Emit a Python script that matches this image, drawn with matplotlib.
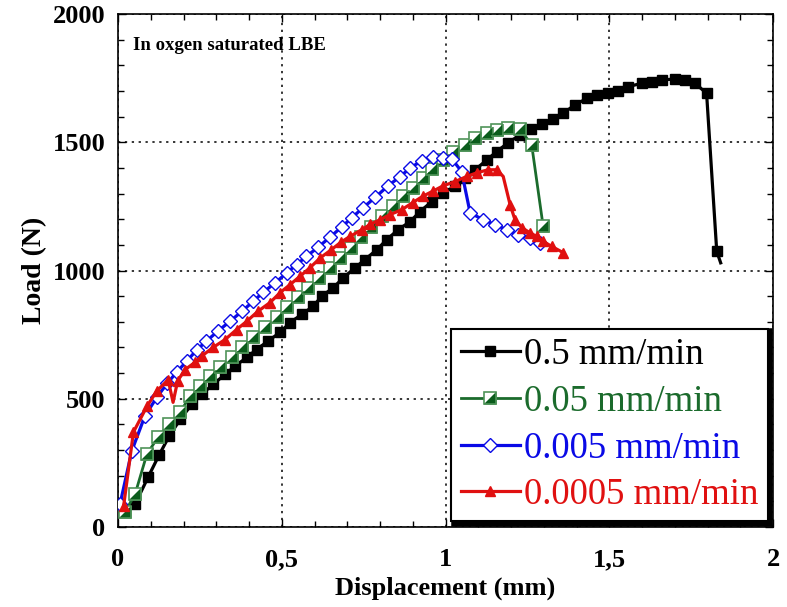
import matplotlib
matplotlib.use("Agg")
import matplotlib.pyplot as plt
from matplotlib.ticker import MultipleLocator

plt.rcParams['font.family'] = 'serif'
plt.rcParams['font.serif'] = ['Liberation Serif', 'DejaVu Serif']

# 0.5 mm/min (last point is the tail of the line, no marker)
x_05 = [0.052, 0.092, 0.125, 0.156, 0.19, 0.225, 0.255, 0.29, 0.327, 0.357,
        0.393, 0.423, 0.458, 0.495, 0.525, 0.561, 0.596, 0.622, 0.657, 0.688,
        0.724, 0.754, 0.79, 0.82, 0.855, 0.892, 0.922, 0.958, 0.992, 1.029,
        1.06, 1.09, 1.126, 1.156, 1.19, 1.227, 1.26, 1.295, 1.328, 1.36,
        1.395, 1.431, 1.461, 1.497, 1.527, 1.557, 1.599, 1.629, 1.66, 1.70,
        1.731, 1.762, 1.797, 1.828, 1.84]
y_05 = [89, 195, 280, 354, 420, 478, 517, 556, 595, 627,
        661, 692, 725, 759, 797, 829, 861, 900, 933, 972,
        1011, 1043, 1081, 1120, 1159, 1191, 1230, 1269, 1303, 1328,
        1361, 1393, 1431, 1464, 1497, 1529, 1550, 1570, 1590, 1614,
        1646, 1671, 1684, 1691, 1701, 1717, 1730, 1736, 1743, 1747,
        1743, 1730, 1691, 1075, 1030]

# 0.05 mm/min
x_005 = [0.021, 0.052, 0.088, 0.122, 0.155, 0.189, 0.22, 0.25, 0.28, 0.311,
         0.347, 0.378, 0.413, 0.449, 0.485, 0.515, 0.55, 0.58, 0.613, 0.647,
         0.678, 0.71, 0.742, 0.772, 0.805, 0.84, 0.87, 0.9, 0.93, 0.96,
         0.992, 1.023, 1.06, 1.09, 1.126, 1.156, 1.19, 1.227, 1.263, 1.298]
y_005 = [58, 128, 284, 350, 400, 447, 510, 550, 587, 622,
         661, 700, 739, 778, 817, 856, 895, 933, 972, 1011,
         1050, 1089, 1130, 1170, 1211, 1250, 1289, 1322, 1361, 1396,
         1431, 1464, 1490, 1517, 1536, 1548, 1556, 1552, 1490, 1172]

# 0.005 mm/min
x_0005 = [0.006, 0.042, 0.082, 0.118, 0.15, 0.18, 0.21, 0.24, 0.27, 0.305,
          0.342, 0.378, 0.413, 0.443, 0.48, 0.515, 0.545, 0.575, 0.61, 0.647,
          0.683, 0.713, 0.748, 0.785, 0.824, 0.861, 0.892, 0.927, 0.962, 0.992,
          1.019, 1.049, 1.075, 1.115, 1.151, 1.187, 1.22, 1.258, 1.289]
y_0005 = [89, 297, 433, 505, 560, 605, 647, 690, 725, 764,
          802, 841, 880, 915, 952, 991, 1023, 1055, 1090, 1130,
          1170, 1205, 1245, 1285, 1330, 1366, 1400, 1428, 1442, 1440,
          1436, 1386, 1225, 1198, 1179, 1159, 1140, 1125, 1109]

# 0.0005 mm/min (the dip near 0.17 and the knee near 1.18 have no marker)
x_00005 = [0.017, 0.047, 0.088, 0.118, 0.153, 0.168, 0.182, 0.205, 0.235, 0.255,
           0.29, 0.327, 0.362, 0.393, 0.427, 0.464, 0.495, 0.525, 0.556, 0.586,
           0.618, 0.65, 0.68, 0.708, 0.744, 0.77, 0.8, 0.83, 0.866, 0.9,
           0.931, 0.962, 0.992, 1.029, 1.065, 1.095, 1.13, 1.156, 1.176, 1.197,
           1.212, 1.233, 1.258, 1.278, 1.298, 1.324, 1.359]
y_00005 = [82, 370, 470, 530, 574, 486, 570, 614, 642, 666,
           700, 731, 770, 802, 841, 875, 914, 945, 978, 1011,
           1050, 1080, 1110, 1133, 1159, 1180, 1198, 1218, 1237, 1265,
           1290, 1310, 1330, 1347, 1367, 1381, 1393, 1393, 1367, 1257,
           1198, 1167, 1147, 1133, 1114, 1094, 1070]

labels = ["0.5 mm/min", "0.05 mm/min", "0.005 mm/min", "0.0005 mm/min"]
xticks = [0, 0.5, 1, 1.5, 2]
xticklabels = ["0", "0,5", "1", "1,5", "2"]
yticks = [0, 500, 1000, 1500, 2000]

c_black = "#000000"
c_green = "#1b6b2c"
c_green_edge = "#4f9459"
c_green_fill = "#0b5c1c"
c_blue = "#0a0ae6"
c_red = "#e01010"

fig = plt.figure(figsize=(7.87, 6.07), dpi=100)
ax = fig.add_axes([0.15, 0.1318, 0.8323, 0.845])

h1, = ax.plot(x_05, y_05, '-', color=c_black, lw=2.3, marker='s', ms=7,
              markevery=list(range(len(x_05) - 1)), zorder=3)

h2, = ax.plot(x_005, y_005, '-', color=c_green, lw=2.0, marker='s', ms=8.5,
              mfc='white', mec=c_green_edge, mew=1.2, zorder=4)
tri = [(-1, -1), (1, -1), (1, 1)]
h2b, = ax.plot(x_005, y_005, ls='none', marker=tri, ms=8.5,
               mfc=c_green_fill, mec=c_green_edge, mew=1.2, zorder=4)

h3, = ax.plot(x_0005, y_0005, '-', color=c_blue, lw=2.3, marker='D', ms=6.8,
              mfc='white', mec=c_blue, mew=1.0, zorder=5)

red_marks = [i for i in range(len(x_00005)) if i not in (5, 38)]
h4, = ax.plot(x_00005, y_00005, '-', color=c_red, lw=2.3, marker='^', ms=7,
              mfc=c_red, mec=c_red, markevery=red_marks, zorder=6)

ax.set_xlim(0, 2)
ax.set_ylim(0, 2000)
ax.set_xticks(xticks)
ax.set_xticklabels(xticklabels)
ax.set_yticks(yticks)
ax.xaxis.set_minor_locator(MultipleLocator(0.1))
ax.yaxis.set_minor_locator(MultipleLocator(100))
ax.tick_params(which='both', direction='in', top=True, right=True, width=1)
ax.tick_params(which='major', length=6)
ax.tick_params(which='minor', length=4)
ax.tick_params(axis='x', which='major', pad=15, labelsize=19)
ax.tick_params(axis='y', which='major', pad=9, labelsize=19)
for lab in ax.get_xticklabels() + ax.get_yticklabels():
    lab.set_fontweight('bold')

ax.grid(True, which='major', color='black', linestyle=(0, (1.5, 3)), lw=1.1)
for s in ax.spines.values():
    s.set_linewidth(1.2)

ax.set_xlabel("Displacement (mm)", fontsize=19, fontweight='bold', labelpad=4)
ax.set_ylabel("Load (N)", fontsize=20, fontweight='bold', labelpad=4)

ax.text(0.023, 0.955, "In oxgen saturated LBE", transform=ax.transAxes,
        fontsize=13.5, fontweight='bold', va='top', ha='left')

leg = ax.legend([h1, (h2, h2b), h3, h4], labels, loc='lower right',
                fontsize=26.5, handlelength=1.6, handletextpad=0.12,
                labelspacing=0.33, borderpad=0.25, borderaxespad=0.15,
                fancybox=False, framealpha=1, edgecolor='black',
                shadow={'color': 'black', 'alpha': 1, 'linewidth': 4})
leg.get_frame().set_linewidth(1.5)
for txt, col in zip(leg.get_texts(), [c_black, c_green, c_blue, c_red]):
    txt.set_color(col)
leg.set_zorder(10)

fig.savefig("out.png", dpi=100)
